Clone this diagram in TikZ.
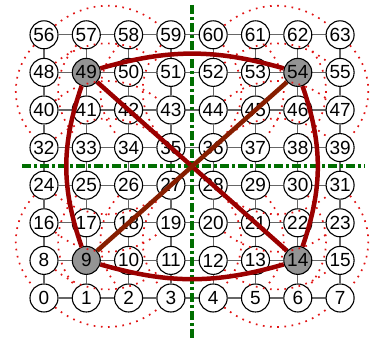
\documentclass[tikz,border=0pt]{standalone}
\usepackage{fontspec}
\setmainfont{Liberation Sans}
\pgfdeclarelayer{bg}
\pgfdeclarelayer{fg}
\pgfsetlayers{bg,main,fg}
\definecolor{ringred}{RGB}{155,0,0}
\definecolor{ringbrown}{RGB}{135,30,0}
\definecolor{dotred}{RGB}{225,20,20}
\definecolor{axisgreen}{RGB}{0,110,0}
\begin{document}
\begin{tikzpicture}[x=1pt,y=1pt,
  vtx/.style={circle,draw=black,line width=1.1pt,fill=white,minimum size=28pt,inner sep=0pt,font=\fontsize{19}{19}\selectfont},
  hub/.style={vtx,fill=black!42},
  gridedge/.style={draw=black!60,line width=1.3pt},
  wrap/.style={draw=dotred,line width=1.7pt,dash pattern=on 1.7pt off 5.5pt},
  ring/.style={draw=ringred,line width=4.5pt},
  ringb/.style={draw=ringbrown,line width=4.5pt},
  axis/.style={draw=axisgreen,line width=4pt,dash pattern=on 9pt off 3pt on 3pt off 3pt}]
\useasboundingbox (0,0) rectangle (373,339);
% nodes
\foreach \r in {0,...,7}{
  \foreach \c in {0,...,7}{
    \pgfmathtruncatemacro{\n}{8*\r+\c}
    \def\sty{vtx}
    \ifnum\n=9 \def\sty{hub}\fi
    \ifnum\n=14 \def\sty{hub}\fi
    \ifnum\n=49 \def\sty{hub}\fi
    \ifnum\n=54 \def\sty{hub}\fi
    \node[\sty] (n\n) at ({44+42.3*\c},{41+37.6*\r}) {\n};
  }
}
% axes and grid
\coordinate (vt) at (192,334);
\coordinate (vb) at (192,0);
\coordinate (hl) at (22,172.6);
\coordinate (hr) at (365,172.6);
\begin{pgfonlayer}{bg}
\foreach \r in {0,...,7}{
  \foreach \c in {0,...,6}{
    \pgfmathtruncatemacro{\a}{8*\r+\c}
    \pgfmathtruncatemacro{\b}{8*\r+\c+1}
    \draw[gridedge] (n\a) -- (n\b);
  }
}
\foreach \r in {0,...,6}{
  \foreach \c in {0,...,7}{
    \pgfmathtruncatemacro{\a}{8*\r+\c}
    \pgfmathtruncatemacro{\b}{8*\r+\c+8}
    \draw[gridedge] (n\a) -- (n\b);
  }
}
\draw[axis] (vt) -- (vb);
\draw[axis] (hl) -- (hr);
\end{pgfonlayer}
% wrap-around links (dotted)
\begin{pgfonlayer}{fg}
% top quadrants: rows bulge up
\foreach \r in {4,...,7}{
  \foreach \cb in {0,4}{
    \pgfmathtruncatemacro{\a}{8*\r+\cb}
    \pgfmathtruncatemacro{\b}{8*\r+\cb+3}
    \draw[wrap] (n\a) to[bend left=40] (n\b);
  }
}
% bottom quadrants: rows bulge down
\foreach \r in {0,...,3}{
  \foreach \cb in {0,4}{
    \pgfmathtruncatemacro{\a}{8*\r+\cb}
    \pgfmathtruncatemacro{\b}{8*\r+\cb+3}
    \draw[wrap] (n\a) to[bend right=40] (n\b);
  }
}
% left quadrants: columns bulge left
\foreach \c in {0,...,3}{
  \foreach \rb in {0,4}{
    \pgfmathtruncatemacro{\a}{8*(\rb+3)+\c}
    \pgfmathtruncatemacro{\b}{8*\rb+\c}
    \draw[wrap] (n\a) to[bend right=43] (n\b);
  }
}
% right quadrants: columns bulge right
\foreach \c in {4,...,7}{
  \foreach \rb in {0,4}{
    \pgfmathtruncatemacro{\a}{8*(\rb+3)+\c}
    \pgfmathtruncatemacro{\b}{8*\rb+\c}
    \draw[wrap] (n\a) to[bend left=43] (n\b);
  }
}
% ring
\draw[ring] (n49) to[bend left=16] (n54);
\draw[ring] (n54) to[bend left=19] (n14);
\draw[ring] (n14) to[bend left=16] (n9);
\draw[ring] (n9) to[bend left=19] (n49);
\draw[ring] (n49) -- (n14);
\draw[ringb] (n9) -- (n54);
\end{pgfonlayer}
\end{tikzpicture}
\end{document}
